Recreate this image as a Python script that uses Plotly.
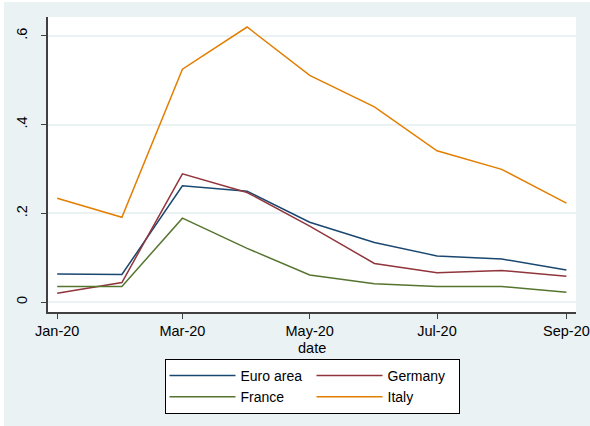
import plotly.graph_objects as go

dates = ["2020-01-01", "2020-02-01", "2020-03-01", "2020-04-01", "2020-05-01",
         "2020-06-01", "2020-07-01", "2020-08-01", "2020-09-01"]
euro_area = [0.063, 0.062, 0.262, 0.250, 0.180, 0.134, 0.104, 0.097, 0.072]
germany = [0.020, 0.044, 0.289, 0.247, 0.171, 0.087, 0.066, 0.071, 0.058]
france = [0.035, 0.035, 0.189, 0.121, 0.061, 0.041, 0.035, 0.035, 0.022]
italy = [0.234, 0.191, 0.525, 0.620, 0.511, 0.440, 0.341, 0.299, 0.223]

x_tickvals = ["2020-01-01", "2020-03-01", "2020-05-01", "2020-07-01", "2020-09-01"]
x_ticktext = ["Jan-20", "Mar-20", "May-20", "Jul-20", "Sep-20"]
y_tickvals = [0, 0.2, 0.4, 0.6]
y_ticktext = ["0", ".2", ".4", ".6"]
x_title = "date"

series = [
    ("Euro area", euro_area, "#1A476F", "g1"),
    ("Germany", germany, "#90353B", "g2"),
    ("France", france, "#55752F", "g1"),
    ("Italy", italy, "#E37E00", "g2"),
]

FONT = "Liberation Sans, Arial, sans-serif"
BG = "#EAF2F3"

fig = go.Figure()
for name, vals, color, grp in series:
    fig.add_trace(go.Scatter(x=dates, y=vals, mode="lines", name=name,
                             legendgroup=grp,
                             line=dict(color=color, width=1.5)))

W, H = 590, 426
ml, mr, mt, mb = 48, 14, 17, 114
pw, ph = W - ml - mr, H - mt - mb

def px2x(p):
    return (p - ml) / pw

def py2y(p):
    return (H - mb - p) / ph

fig.update_layout(
    width=W, height=H,
    margin=dict(l=ml, r=mr, t=mt, b=mb, autoexpand=False),
    paper_bgcolor="white",
    plot_bgcolor="white",
    font=dict(family=FONT, size=14.5, color="black"),
    showlegend=True,
    legend=dict(
        orientation="h", traceorder="grouped",
        xref="paper", x=0.5, xanchor="center",
        yref="container", y=1 - 359 / H, yanchor="top",
        bgcolor="white", bordercolor="black", borderwidth=1,
        font=dict(family=FONT, size=14),
        itemwidth=66, entrywidth=66, tracegroupgap=0,
    ),
    shapes=[
        dict(type="rect", xref="paper", yref="paper", layer="below",
             x0=px2x(4), x1=px2x(W + 2), y0=py2y(H + 2), y1=py2y(2),
             fillcolor=BG, line=dict(width=0)),
        dict(type="rect", xref="paper", yref="paper", layer="below",
             x0=0, x1=1, y0=0, y1=1, fillcolor="white", line=dict(width=0)),
    ],
    annotations=[
        dict(text=x_title, xref="paper", yref="paper", x=0.5, y=py2y(338),
             xanchor="center", yanchor="top", showarrow=False,
             font=dict(family=FONT, size=14.5, color="black")),
    ],
    xaxis=dict(
        range=["2019-12-27 14:10", "2020-09-05 14:24"],
        tickmode="array", tickvals=x_tickvals, ticktext=x_ticktext,
        ticks="outside", ticklen=5, tickwidth=1.2, tickcolor="#404040",
        showline=True, linecolor="#404040", linewidth=1.5,
        showgrid=False, zeroline=False, automargin=False,
        tickfont=dict(size=14.5),
    ),
    yaxis=dict(
        range=[-0.0225, 0.6426],
        tickmode="array", tickvals=y_tickvals, ticktext=y_ticktext,
        tickangle=-90,
        ticks="outside", ticklen=5, tickwidth=1.2, tickcolor="#404040",
        showline=True, linecolor="#404040", linewidth=1.5,
        showgrid=True, gridcolor=BG, gridwidth=1.5, zeroline=False,
        automargin=False,
        tickfont=dict(size=14.5),
        ticklabelstandoff=8,
    ),
)

fig.write_html("out.html")
